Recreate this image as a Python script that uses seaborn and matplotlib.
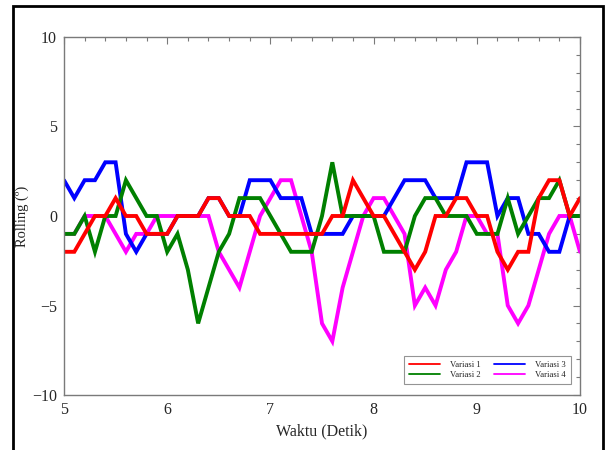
import numpy as np
import pandas as pd
import matplotlib
matplotlib.use("Agg")
import matplotlib.pyplot as plt
from matplotlib.patches import Rectangle
from matplotlib.lines import Line2D
from matplotlib.ticker import MultipleLocator
import seaborn as sns

# ---- data ----
waktu = [round(5.0 + 0.1 * i, 1) for i in range(51)]

variasi_1 = [-2, -2, -1, 0, 0, 1, 0, 0, -1, -1,
             -1, 0, 0, 0, 1, 1, 0, 0, 0, -1,
             -1, -1, -1, -1, -1, -1, 0, 0, 2, 1,
             0, 0, -1, -2, -3, -2, 0, 0, 1, 1,
             0, 0, -2, -3, -2, -2, 1, 2, 2, 0,
             1]
variasi_2 = [-1, -1, 0, -2, 0, 0, 2, 1, 0, 0,
             -2, -1, -3, -6, -4, -2, -1, 1, 1, 1,
             0, -1, -2, -2, -2, 0, 3, 0, 0, 0,
             0, -2, -2, -2, 0, 1, 1, 0, 0, 0,
             -1, -1, -1, 1, -1, 0, 1, 1, 2, 0,
             0]
variasi_3 = [2, 1, 2, 2, 3, 3, -1, -2, -1, -1,
             -1, 0, 0, 0, 1, 1, 0, 0, 2, 2,
             2, 1, 1, 1, -1, -1, -1, -1, 0, 0,
             0, 0, 1, 2, 2, 2, 1, 1, 1, 3,
             3, 3, 0, 1, 1, -1, -1, -2, -2, 0,
             0]
variasi_4 = [-1, -1, 0, 0, 0, -1, -2, -1, -1, 0,
             0, 0, 0, 0, 0, -2, -3, -4, -2, 0,
             1, 2, 2, 0, -2, -6, -7, -4, -2, 0,
             1, 1, 0, -1, -5, -4, -5, -3, -2, 0,
             0, -1, -1, -5, -6, -5, -3, -1, 0, 0,
             -2]

series_names = ["Variasi 1", "Variasi 2", "Variasi 3", "Variasi 4"]
series_vals = [variasi_1, variasi_2, variasi_3, variasi_4]
colors = {"Variasi 1": "#ff0000", "Variasi 2": "#008000",
          "Variasi 3": "#0000ff", "Variasi 4": "#ff00ff"}

xticks = [5, 6, 7, 8, 9, 10]
yticks = [-10, -5, 0, 5, 10]

df = pd.concat([pd.DataFrame({"Waktu": waktu, "Rolling": v, "Seri": n})
                for n, v in zip(series_names, series_vals)], ignore_index=True)

# ---- style ----
sns.set_style("white")
plt.rcParams["font.family"] = ["Liberation Serif", "DejaVu Serif"]
plt.rcParams["mathtext.fontset"] = "stix"

fig = plt.figure(figsize=(6.11, 4.5), dpi=100)
ax = fig.add_axes([64 / 611, 1 - 395 / 450, 516 / 611, 358 / 450])

# draw in reverse order so Variasi 1 ends up on top
for name in reversed(series_names):
    sns.lineplot(data=df[df["Seri"] == name], x="Waktu", y="Rolling",
                 color=colors[name], linewidth=2.8, ax=ax, legend=False,
                 solid_joinstyle="miter")

ax.set_xlim(5, 10)
ax.set_ylim(-10, 10)
ax.set_xticks(xticks)
ax.set_yticks(yticks)
ax.set_xticklabels([str(t) for t in xticks])
ax.set_yticklabels([("\u2212" + str(-t)) if t < 0 else str(t) for t in yticks])
ax.xaxis.set_minor_locator(MultipleLocator(0.2))
ax.yaxis.set_minor_locator(MultipleLocator(1))

spine_col = "#7a7a7a"
for s in ax.spines.values():
    s.set_color(spine_col)
    s.set_linewidth(1.0)
ax.tick_params(which="both", direction="in", top=True, right=True,
               color=spine_col, width=0.8)
ax.tick_params(which="major", length=5, labelsize=11.5, pad=5)
ax.tick_params(which="minor", length=3)

ax.set_xlabel("Waktu (Detik)", fontsize=11.5, labelpad=4)
ax.set_ylabel("Rolling (\u00ba)", fontsize=10.5, labelpad=2)

handles = [Line2D([0], [0], color=colors[n], lw=1.3) for n in series_names]
leg = ax.legend(handles, series_names, loc="lower right",
                bbox_to_anchor=(0.983, 0.031), ncol=2, fontsize=6.2,
                frameon=True, fancybox=False, edgecolor=spine_col,
                handlelength=3.6, columnspacing=1.5, handletextpad=1.2,
                borderpad=0.6, labelspacing=0.15, borderaxespad=0)
leg.get_frame().set_linewidth(0.8)

# outer black frame of the original figure
fig.patches.append(Rectangle((13 / 611, -0.05), (603 - 13) / 611, 1 - 6 / 450 + 0.05,
                             transform=fig.transFigure, fill=False,
                             edgecolor="black", linewidth=2.0))

fig.savefig("out.png", dpi=100)
